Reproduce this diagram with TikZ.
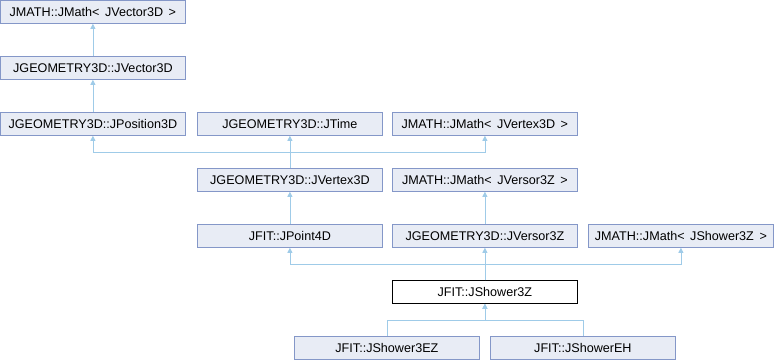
\documentclass[tikz,border=0pt]{standalone}
\usepackage{fontspec}
\setmainfont{Liberation Sans}
\usetikzlibrary{arrows.meta}
\definecolor{boxfill}{HTML}{E8ECF5}
\definecolor{boxline}{HTML}{8497C8}
\definecolor{edgecol}{HTML}{9FCBE8}
\begin{document}
\begin{tikzpicture}[x=1pt,y=-1pt,
  cls/.style={draw=boxline,fill=boxfill,line width=0.8pt,minimum width=185pt,minimum height=23pt,inner sep=0pt,anchor=north west,font=\fontsize{12.6}{14}\selectfont},
  cur/.style={cls,draw=black,fill=white},
  inh/.style={draw=edgecol,line width=0.8pt,-{Triangle[width=5pt,length=5pt]}}]
\useasboundingbox (0,0) rectangle (774,360);
\node[cls] (A) at (0,0) {JMATH::JMath<\, JVector3D\, >};
\node[cls] (B) at (0,56) {JGEOMETRY3D::JVector3D};
\node[cls] (C) at (0,112) {JGEOMETRY3D::JPosition3D};
\node[cls] (D) at (197,112) {JGEOMETRY3D::JTime};
\node[cls] (E) at (392,112) {JMATH::JMath<\, JVertex3D\, >};
\node[cls] (F) at (197,168) {JGEOMETRY3D::JVertex3D};
\node[cls] (G) at (392,168) {JMATH::JMath<\, JVersor3Z\, >};
\node[cls] (H) at (197,224) {JFIT::JPoint4D};
\node[cls] (I) at (392,224) {JGEOMETRY3D::JVersor3Z};
\node[cls] (J) at (588,224) {JMATH::JMath<\, JShower3Z\, >};
\node[cur] (K) at (392,280) {JFIT::JShower3Z};
\node[cls] (L) at (294,336) {JFIT::JShower3EZ};
\node[cls] (M) at (490,336) {JFIT::JShowerEH};
\draw[inh] (B.north) -- (A.south);
\draw[inh] (C.north) -- (B.south);
\draw[inh] (F.north) -- (D.south);
\draw[inh] (F.north) -- ++(0,-16) -| (C.south);
\draw[inh] (F.north) -- ++(0,-16) -| (E.south);
\draw[inh] (H.north) -- (F.south);
\draw[inh] (I.north) -- (G.south);
\draw[inh] (K.north) -- (I.south);
\draw[inh] (K.north) -- ++(0,-16) -| (H.south);
\draw[inh] (K.north) -- ++(0,-16) -| (J.south);
\draw[inh] (L.north) -- ++(0,-16) -| (K.south);
\draw[inh] (M.north) -- ++(0,-16) -| (K.south);
\end{tikzpicture}
\end{document}
